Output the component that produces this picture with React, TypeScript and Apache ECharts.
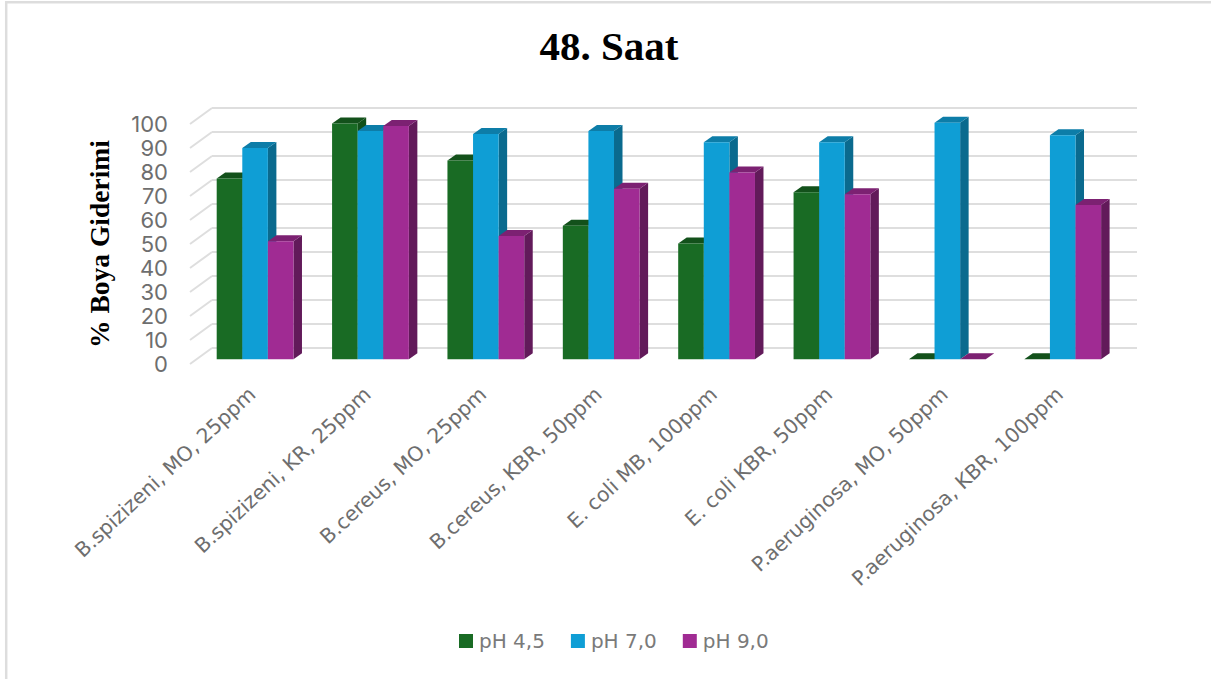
import React, { useEffect, useRef } from "react";
import * as echarts from "echarts";

const categories = [
  "B.spizizeni, MO, 25ppm",
  "B.spizizeni, KR, 25ppm",
  "B.cereus, MO, 25ppm",
  "B.cereus, KBR, 50ppm",
  "E. coli MB, 100ppm",
  "E. coli KBR, 50ppm",
  "P.aeruginosa, MO, 50ppm",
  "P.aeruginosa, KBR, 100ppm",
];
const ph45 = [75.3, 98.2, 82.8, 55.6, 48.3, 69.6, 0, 0];
const ph70 = [88, 95.1, 93.9, 95.1, 90.4, 90.4, 98.6, 93.4];
const ph90 = [49.2, 97.2, 51.4, 71.1, 77.8, 68.8, 0, 64.3];
const yTicks = [0, 10, 20, 30, 40, 50, 60, 70, 80, 90, 100];

const seriesDefs = [
  { name: "pH 4,5", values: ph45, front: "#196B24", top: "#13511B", side: "#125019" },
  { name: "pH 7,0", values: ph70, front: "#0F9ED5", top: "#0D7DA8", side: "#0A6A8E" },
  { name: "pH 9,0", values: ph90, front: "#A02B93", top: "#7C2172", side: "#621A5A" },
];

const BAR_RATIO = 25.6 / 115.4;
const DX = 8.5;
const DY = 6;
const WALL_DX = 22;
const WALL_DY = 16;

const barRenderer = (slot: number, def: any) => (_p: any, api: any) => {
  const idx = api.value(0);
  const val = api.value(1);
  const [cx, yTop] = api.coord([idx, val]);
  const [, yBase] = api.coord([idx, 0]);
  const band = api.size([1, 0])[0];
  const w = band * BAR_RATIO;
  const x0 = cx + (slot - 1.5) * w;
  const x1 = x0 + w;
  const children: any[] = [
    {
      type: "polygon",
      shape: { points: [[x1, yBase], [x1 + DX, yBase - DY], [x1 + DX, yTop - DY], [x1, yTop]] },
      style: { fill: def.side },
    },
    {
      type: "polygon",
      shape: { points: [[x0, yTop], [x0 + DX, yTop - DY], [x1 + DX, yTop - DY], [x1, yTop]] },
      style: { fill: def.top },
    },
    { type: "rect", shape: { x: x0, y: yTop, width: w, height: yBase - yTop }, style: { fill: def.front } },
  ];
  return { type: "group", children };
};

const diagRenderer = (params: any, api: any) => {
  const left = params.coordSys.x;
  const y = api.coord([0, api.value(1)])[1];
  return {
    type: "line",
    shape: { x1: left, y1: y, x2: left + WALL_DX, y2: y - WALL_DY },
    style: { stroke: "#DEDEDE", lineWidth: 2 },
  };
};

export default function App() {
  const ref = useRef<HTMLDivElement>(null);
  useEffect(() => {
    document.body.style.margin = "0";
    document.body.style.overflow = "hidden";
    const chart = echarts.init(ref.current!, undefined, { renderer: "svg" });
    const silentAxis = { axisLine: { show: false }, axisTick: { show: false }, axisLabel: { show: false }, splitLine: { show: false } };
    chart.setOption({
      animation: false,
      backgroundColor: "#FFFFFF",
      title: {
        text: "48. Saat",
        left: 604,
        top: 20,
        textAlign: "center",
        textStyle: { fontFamily: "Liberation Serif", fontWeight: "bold", fontSize: 41, color: "#000000" },
      },
      legend: {
        data: seriesDefs.map((d) => d.name),
        left: 454,
        top: 626,
        itemWidth: 14,
        itemHeight: 14,
        itemGap: 26,
        icon: "rect",
        textStyle: { fontFamily: "DejaVu Sans", fontSize: 20, color: "#7A7A7A", padding: [0, 0, 0, 1] },
      },
      grid: [
        { left: 190, top: 124, width: 925, height: 240 },
        { left: 212, top: 108, width: 925, height: 240 },
        { left: 197.4, top: 119.3, width: 923, height: 240 },
      ],
      xAxis: [
        { type: "category", gridIndex: 0, data: categories, ...silentAxis },
        { type: "category", gridIndex: 1, data: categories, ...silentAxis },
        {
          type: "category",
          gridIndex: 2,
          data: categories,
          axisLine: { show: false },
          axisTick: { show: false },
          splitLine: { show: false },
          axisLabel: {
            rotate: 43,
            margin: 29,
            interval: 0,
            fontFamily: "DejaVu Sans",
            fontSize: 20.3,
            color: "#6E6E6E",
            padding: [0, 4, 0, 0],
          },
        },
      ],
      yAxis: [
        {
          type: "value",
          gridIndex: 0,
          min: 0,
          max: 100,
          interval: 10,
          axisLine: { show: false },
          axisTick: { show: false },
          splitLine: { show: false },
          axisLabel: { margin: 22, fontFamily: "Inter", fontSize: 22, color: "#6E6E6E" },
          name: "% Boya Giderimi",
          nameLocation: "middle",
          nameGap: 77,
          nameRotate: 90,
          nameTextStyle: { fontFamily: "Liberation Serif", fontWeight: "bold", fontSize: 27.5, color: "#000000" },
        },
        {
          type: "value",
          gridIndex: 1,
          min: 0,
          max: 100,
          interval: 10,
          axisLine: { show: false },
          axisTick: { show: false },
          axisLabel: { show: false },
          splitLine: { show: true, lineStyle: { color: "#DEDEDE", width: 2 } },
        },
        { type: "value", gridIndex: 2, min: 0, max: 100, interval: 10, ...silentAxis },
      ],
      graphic: [
        { type: "line", shape: { x1: 6.2, y1: 1, x2: 6.2, y2: 679 }, style: { stroke: "#DDDDDD", lineWidth: 2.5 } },
        { type: "line", shape: { x1: 5, y1: 2.2, x2: 1211, y2: 2.2 }, style: { stroke: "#DDDDDD", lineWidth: 2.5 } },
      ],
      series: [
        {
          type: "custom",
          name: "walls",
          xAxisIndex: 0,
          yAxisIndex: 0,
          renderItem: diagRenderer,
          data: yTicks.map((t) => [0, t]),
          silent: true,
          z: 1,
        },
        ...seriesDefs.map((def, i) => ({
          type: "custom",
          name: def.name,
          xAxisIndex: 2,
          yAxisIndex: 2,
          itemStyle: { color: def.front },
          renderItem: barRenderer(i, def),
          encode: { x: 0, y: 1 },
          data: def.values.map((v, idx) => [idx, v]),
          clip: false,
          z: 2 + i,
        })),
      ],
    });
    return () => chart.dispose();
  }, []);
  return <div ref={ref} style={{ position: "absolute", left: 0, top: 0, width: 1211, height: 679 }} />;
}
